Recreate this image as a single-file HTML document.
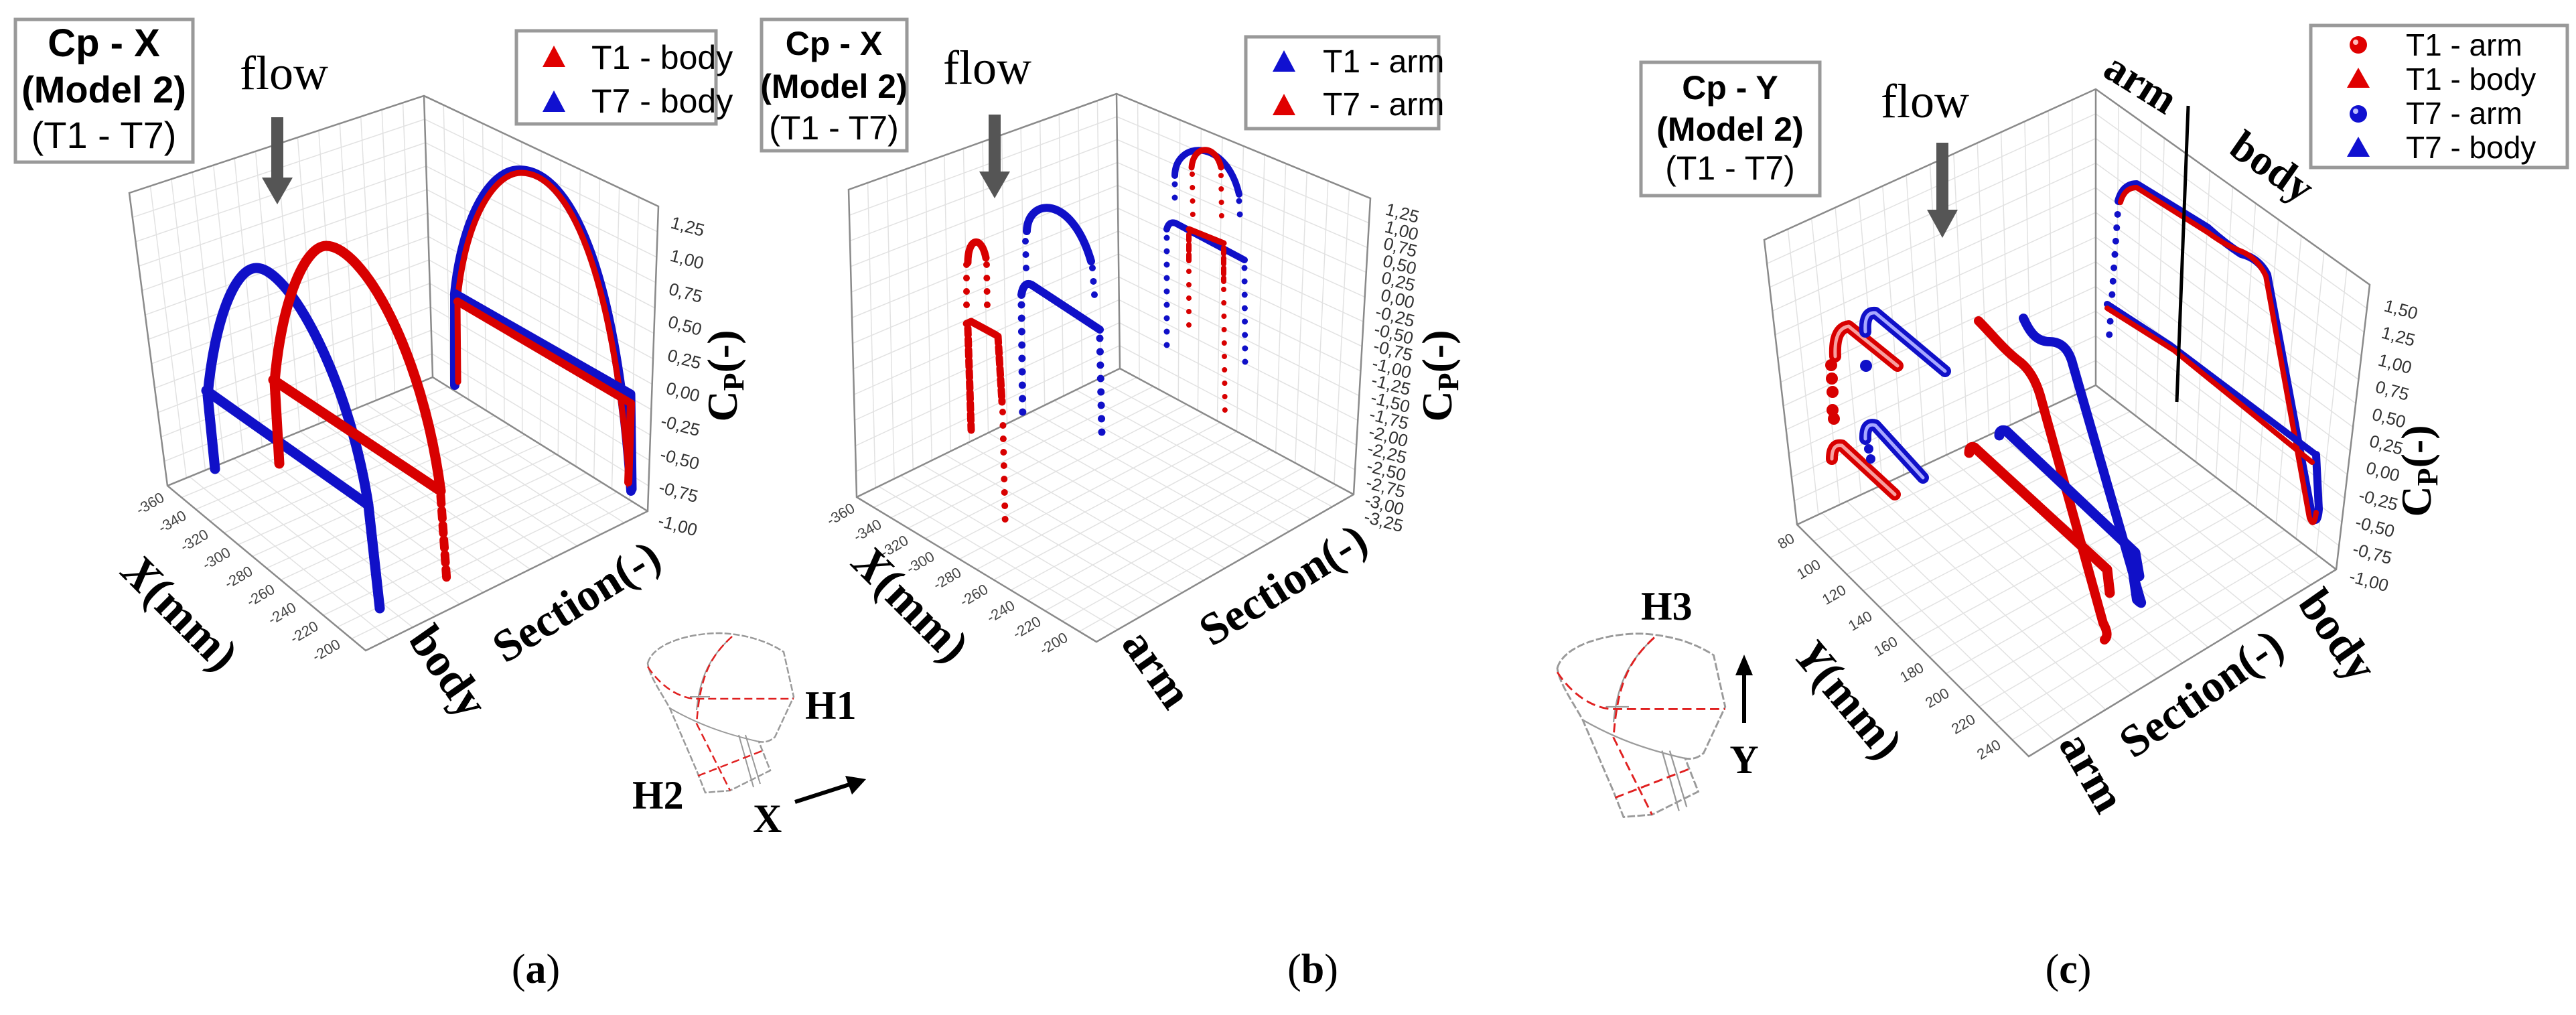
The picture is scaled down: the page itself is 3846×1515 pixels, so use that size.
<!DOCTYPE html>
<html><head><meta charset="utf-8"><style>
html,body{margin:0;padding:0;background:#fff}
svg{display:block}
.sans{font-family:"Liberation Sans",sans-serif}
.ser{font-family:"Liberation Serif",serif}
.tk{font-family:"Liberation Sans",sans-serif;font-size:26px;fill:#333}
.xt{font-family:"Liberation Sans",sans-serif;font-size:22px;fill:#444;text-anchor:end;dominant-baseline:middle}
.g{stroke:#e2e2e2;stroke-width:1.5;fill:none}
.ax{stroke:#8a8a8a;stroke-width:2.5;fill:none}
.r{stroke:#d80000;fill:none;stroke-linecap:round;stroke-linejoin:round}
.b{stroke:#1010c8;fill:none;stroke-linecap:round;stroke-linejoin:round}
.rd{stroke:#d80000;fill:none;stroke-linecap:round;stroke-dasharray:0 20}
.bd{stroke:#1010c8;fill:none;stroke-linecap:round;stroke-dasharray:0 20}
.ttl{font-family:"Liberation Serif",serif;font-weight:bold;fill:#000}
</style></head><body>
<svg id="s" width="3846" height="1515" viewBox="0 0 3846 1515" xmlns="http://www.w3.org/2000/svg">
<rect width="3846" height="1515" fill="#fff"/>
<g id="grids"></g>

<!-- ============ PANEL A ============ -->
<g class="ax">
<path d="M193,288 L633,143 L983,308 L967,763 L546,971 L250,725 Z"/>
<path d="M633,143 L646,563 L250,725 M646,563 L967,763"/>
</g>
<rect x="23" y="29" width="265" height="213" fill="#fff" stroke="#999" stroke-width="5"/>
<text class="sans" x="155" y="84" font-size="58" font-weight="bold" text-anchor="middle">Cp - X</text>
<text class="sans" x="155" y="153" font-size="56" font-weight="bold" text-anchor="middle">(Model 2)</text>
<text class="sans" x="155" y="221" font-size="56" text-anchor="middle">(T1 - T7)</text>
<text class="ser" x="358" y="133" font-size="72">flow</text>
<path d="M405,175 h18 v90 h14 l-23,40 l-23,-40 h14 z" fill="#555"/>
<rect x="771" y="46" width="298" height="139" fill="#fff" stroke="#999" stroke-width="5"/>
<path d="M810,100 l17,-32 l17,32 z" fill="#e00000"/>
<path d="M810,167 l17,-32 l17,32 z" fill="#1010d0"/>
<text class="sans" x="883" y="103" font-size="50">T1 - body</text>
<text class="sans" x="883" y="168" font-size="50">T7 - body</text>
<!-- data a -->
<path class="b" stroke-width="15" d="M321,700 L310,590 C320,480 350,400 383,400 C430,400 520,560 550,754 L567,908"/>
<path class="b" stroke-width="15" d="M308,583 L550,754"/>
<path class="r" stroke-width="15" d="M417,692 L410,570 C420,450 455,367 487,367 C540,367 630,520 658,733"/>
<path class="r" stroke-width="13" stroke-dasharray="12 10" d="M658,740 L667,867"/>
<path class="r" stroke-width="15" d="M408,567 L658,733"/>
<path class="b" stroke-width="14" d="M679,575 L679,438 C690,330 730,254 775,254 C850,254 920,400 942,733"/>
<path class="r" stroke-width="9" d="M684,570 L683,450 C693,335 735,258 778,258 C848,258 915,400 940,725"/>
<path class="b" stroke-width="13" d="M679,438 L700,450 L942,588 L944,730"/>
<path class="r" stroke-width="12" d="M683,450 L942,602 L938,720"/>
<!-- ticks a -->
<g class="tk" font-size="28">
<text x="1000" y="340" transform="rotate(15 1000 340)">1,25</text>
<text x="999" y="389" transform="rotate(15 999 389)">1,00</text>
<text x="997" y="439" transform="rotate(15 997 439)">0,75</text>
<text x="996" y="488" transform="rotate(15 996 488)">0,50</text>
<text x="995" y="538" transform="rotate(15 995 538)">0,25</text>
<text x="993" y="587" transform="rotate(15 993 587)">0,00</text>
<text x="985" y="636" transform="rotate(15 985 636)">-0,25</text>
<text x="984" y="686" transform="rotate(15 984 686)">-0,50</text>
<text x="982" y="735" transform="rotate(15 982 735)">-0,75</text>
<text x="981" y="785" transform="rotate(15 981 785)">-1,00</text>
</g>
<g class="xt">
<text x="244" y="742" transform="rotate(-30 244 742)">-360</text>
<text x="277" y="769" transform="rotate(-30 277 769)">-340</text>
<text x="310" y="797" transform="rotate(-30 310 797)">-320</text>
<text x="343" y="824" transform="rotate(-30 343 824)">-300</text>
<text x="376" y="852" transform="rotate(-30 376 852)">-280</text>
<text x="409" y="879" transform="rotate(-30 409 879)">-260</text>
<text x="441" y="906" transform="rotate(-30 441 906)">-240</text>
<text x="474" y="934" transform="rotate(-30 474 934)">-220</text>
<text x="507" y="961" transform="rotate(-30 507 961)">-200</text>
</g>
<text class="ttl" font-size="64" x="1122" y="583" text-anchor="middle" transform="rotate(-90 1100 583)">C<tspan font-size="44" dy="10">P</tspan><tspan dy="-10">(-)</tspan></text>
<text class="ttl" font-size="70" x="267" y="937" text-anchor="middle" transform="rotate(45 267 917)"><tspan font-style="italic">X</tspan>(mm)</text>
<text class="ttl" font-size="70" x="667" y="1024" text-anchor="middle" transform="rotate(55 667 1004)">body</text>
<text class="ttl" font-size="68" x="862" y="920" text-anchor="middle" transform="rotate(-32 862 900)">Section(-)</text>
<!-- inset a -->
<g id="ins" fill="none">
<path d="M967,990 C975,960 1030,945 1075,945 C1120,947 1150,960 1170,973 L1185,1040 L1157,1100 C1148,1108 1140,1108 1133,1107 L1150,1150 L1090,1180 L1053,1183 L1040,1150 L1000,1057 C985,1030 970,1010 967,990 Z" stroke="#9a9a9a" stroke-width="2.5" stroke-dasharray="10 3"/>
<path d="M1000,1057 C1040,1080 1080,1095 1133,1107 M1103,1097 L1125,1175 M1113,1097 L1135,1170 M1093,950 C1060,980 1045,1010 1040,1060 M1030,1040 L1060,1040" stroke="#9a9a9a" stroke-width="2"/>
<path d="M967,995 C990,1030 1020,1043 1040,1043 L1185,1043 M1093,950 C1060,980 1045,1010 1040,1080 L1090,1180 M1042,1158 L1140,1120" stroke="#e02020" stroke-width="2.5" stroke-dasharray="12 6"/>
</g>
<text class="ttl" font-size="60" x="1202" y="1073">H1</text>
<text class="ttl" font-size="60" x="944" y="1207">H2</text>
<text class="ttl" font-size="60" x="1124" y="1242" font-weight="normal">X</text>
<path d="M1187,1197 L1268,1171" stroke="#000" stroke-width="6"/>
<path d="M1293,1163 L1262,1158 L1272,1186 Z" fill="#000"/>

<!-- ============ PANEL B ============ -->
<g class="ax">
<path d="M1267,283 L1667,140 L2046,296 L2021,738 L1637,958 L1279,742 Z"/>
<path d="M1667,140 L1672,550 L1279,742 M1672,550 L2021,738"/>
</g>
<rect x="1137" y="29" width="217" height="196" fill="#fff" stroke="#999" stroke-width="5"/>
<text class="sans" x="1245" y="82" font-size="50" font-weight="bold" text-anchor="middle">Cp - X</text>
<text class="sans" x="1245" y="146" font-size="50" font-weight="bold" text-anchor="middle">(Model 2)</text>
<text class="sans" x="1245" y="208" font-size="50" text-anchor="middle">(T1 - T7)</text>
<text class="ser" x="1408" y="125" font-size="72">flow</text>
<path d="M1476,171 h18 v85 h14 l-23,40 l-23,-40 h14 z" fill="#555"/>
<rect x="1860" y="55" width="288" height="137" fill="#fff" stroke="#999" stroke-width="5"/>
<path d="M1900,107 l17,-32 l17,32 z" fill="#1010d0"/>
<path d="M1900,172 l17,-32 l17,32 z" fill="#e00000"/>
<text class="sans" x="1975" y="108" font-size="48">T1 - arm</text>
<text class="sans" x="1975" y="172" font-size="48">T7 - arm</text>
<!-- data b -->
<path class="r" stroke-width="11" d="M1445,392 C1445,355 1465,350 1472,385"/>
<path class="rd" stroke-width="10" d="M1443,395 L1443,470 M1473,395 L1474,460"/>
<path class="r" stroke-width="11" d="M1443,483 L1450,480 L1487,500"/>
<path class="r" stroke-width="11" stroke-dasharray="10 6" d="M1445,490 L1450,642 M1490,502 L1496,600"/>
<path class="rd" stroke-width="10" d="M1497,615 L1501,790"/>
<path class="b" stroke-width="12" d="M1533,345 C1535,295 1600,290 1629,390"/>
<path class="bd" stroke-width="10" d="M1531,360 L1532,400 M1631,400 L1634,440"/>
<path class="b" stroke-width="12" d="M1525,440 Q1528,420 1540,425 L1642,492"/>
<path class="bd" stroke-width="11" d="M1525,455 L1527,633 M1642,505 L1645,645"/>
<path class="b" stroke-width="10" d="M1754,262 C1755,210 1830,205 1850,290"/>
<path class="bd" stroke-width="9" d="M1754,275 L1754,305 M1850,300 L1852,335"/>
<path class="b" stroke-width="10" d="M1742,342 Q1745,330 1755,333 L1858,388"/>
<path class="bd" stroke-width="9" d="M1742,355 L1742,535 M1858,400 L1859,545"/>
<path class="r" stroke-width="9" d="M1779,250 C1782,215 1815,215 1823,250"/>
<path class="rd" stroke-width="8" d="M1780,260 L1781,330 M1823,262 L1824,330"/>
<path class="r" stroke-width="9" d="M1775,342 L1827,363"/>
<path class="r" stroke-width="8" stroke-dasharray="9 6" d="M1775,350 L1775,395 M1827,370 L1827,420"/>
<path class="rd" stroke-width="8" d="M1775,405 L1775,492 M1827,432 L1829,625"/>
<g class="tk" font-size="23">
<text x="2067" y="320" transform="rotate(15 2067 320)">1,25</text>
<text x="2066" y="346" transform="rotate(15 2066 346)">1,00</text>
<text x="2064" y="371" transform="rotate(15 2064 371)">0,75</text>
<text x="2063" y="397" transform="rotate(15 2063 397)">0,50</text>
<text x="2061" y="422" transform="rotate(15 2061 422)">0,25</text>
<text x="2060" y="448" transform="rotate(15 2060 448)">0,00</text>
<text x="2052" y="473" transform="rotate(15 2052 473)">-0,25</text>
<text x="2050" y="499" transform="rotate(15 2050 499)">-0,50</text>
<text x="2049" y="524" transform="rotate(15 2049 524)">-0,75</text>
<text x="2047" y="550" transform="rotate(15 2047 550)">-1,00</text>
<text x="2046" y="575" transform="rotate(15 2046 575)">-1,25</text>
<text x="2045" y="601" transform="rotate(15 2045 601)">-1,50</text>
<text x="2043" y="626" transform="rotate(15 2043 626)">-1,75</text>
<text x="2042" y="652" transform="rotate(15 2042 652)">-2,00</text>
<text x="2040" y="677" transform="rotate(15 2040 677)">-2,25</text>
<text x="2039" y="703" transform="rotate(15 2039 703)">-2,50</text>
<text x="2038" y="728" transform="rotate(15 2038 728)">-2,75</text>
<text x="2036" y="754" transform="rotate(15 2036 754)">-3,00</text>
<text x="2035" y="779" transform="rotate(15 2035 779)">-3,25</text>
</g>
<g class="xt">
<text x="1275" y="758" transform="rotate(-30 1275 758)">-360</text>
<text x="1315" y="782" transform="rotate(-30 1315 782)">-340</text>
<text x="1355" y="806" transform="rotate(-30 1355 806)">-320</text>
<text x="1394" y="830" transform="rotate(-30 1394 830)">-300</text>
<text x="1434" y="854" transform="rotate(-30 1434 854)">-280</text>
<text x="1474" y="879" transform="rotate(-30 1474 879)">-260</text>
<text x="1514" y="903" transform="rotate(-30 1514 903)">-240</text>
<text x="1553" y="927" transform="rotate(-30 1553 927)">-220</text>
<text x="1593" y="951" transform="rotate(-30 1593 951)">-200</text>
</g>
<text class="ttl" font-size="64" x="2189" y="583" text-anchor="middle" transform="rotate(-90 2167 583)">C<tspan font-size="44" dy="10">P</tspan><tspan dy="-10">(-)</tspan></text>
<text class="ttl" font-size="70" x="1358" y="924" text-anchor="middle" transform="rotate(45 1358 904)"><tspan font-style="italic">X</tspan>(mm)</text>
<text class="ttl" font-size="70" x="1725" y="1020" text-anchor="middle" transform="rotate(55 1725 1000)">arm</text>
<text class="ttl" font-size="68" x="1917" y="895" text-anchor="middle" transform="rotate(-32 1917 875)">Section(-)</text>

<!-- ============ PANEL C ============ -->
<g class="ax">
<path d="M2634,358 L3129,133 L3538,425 L3488,850 L3029,1129 L2683,783 Z"/>
<path d="M3129,133 L3129,575 L2683,783 M3129,575 L3488,850"/>
</g>
<rect x="2450" y="93" width="267" height="199" fill="#fff" stroke="#999" stroke-width="5"/>
<text class="sans" x="2583" y="148" font-size="50" font-weight="bold" text-anchor="middle">Cp - Y</text>
<text class="sans" x="2583" y="210" font-size="50" font-weight="bold" text-anchor="middle">(Model 2)</text>
<text class="sans" x="2583" y="268" font-size="50" text-anchor="middle">(T1 - T7)</text>
<text class="ser" x="2808" y="175" font-size="72">flow</text>
<path d="M2891,213 h18 v100 h14 l-23,42 l-23,-42 h14 z" fill="#555"/>
<rect x="3450" y="38" width="383" height="212" fill="#fff" stroke="#999" stroke-width="5"/>
<circle cx="3521" cy="67" r="13" fill="#e00000"/><circle cx="3517" cy="63" r="4" fill="#fbb"/>
<path d="M3504,131 l17,-30 l17,30 z" fill="#e00000"/>
<circle cx="3521" cy="170" r="13" fill="#1010d0"/><circle cx="3517" cy="166" r="4" fill="#bbf"/>
<path d="M3504,234 l17,-30 l17,30 z" fill="#1010d0"/>
<text class="sans" x="3592" y="83" font-size="46">T1 - arm</text>
<text class="sans" x="3592" y="134" font-size="46">T1 - body</text>
<text class="sans" x="3592" y="185" font-size="46">T7 - arm</text>
<text class="sans" x="3592" y="236" font-size="46">T7 - body</text>
<!-- data c -->
<g stroke-linecap="round" stroke-linejoin="round" fill="none">
<path d="M2740,532 Q2738,490 2760,487 L2833,546" stroke="#d80000" stroke-width="18"/>
<path d="M2740,532 Q2738,490 2760,487 L2833,546" stroke="#f7a0a0" stroke-width="5"/>
<path d="M2785,495 Q2783,465 2800,467 L2904,554" stroke="#1010c8" stroke-width="18"/>
<path d="M2785,495 Q2783,465 2800,467 L2904,554" stroke="#a8a8ff" stroke-width="5"/>
<path d="M2735,685 Q2735,662 2750,665 L2829,738" stroke="#d80000" stroke-width="18"/>
<path d="M2735,685 Q2735,662 2750,665 L2829,738" stroke="#f7a0a0" stroke-width="5"/>
<path d="M2785,655 Q2784,630 2800,635 L2871,713" stroke="#1010c8" stroke-width="18"/>
<path d="M2785,655 Q2784,630 2800,635 L2871,713" stroke="#a8a8ff" stroke-width="5"/>
</g>
<g fill="#d80000"><circle cx="2734" cy="545" r="9"/><circle cx="2735" cy="565" r="9"/><circle cx="2736" cy="585" r="9"/><circle cx="2736" cy="612" r="9"/><circle cx="2738" cy="625" r="9"/></g>
<g fill="#1010c8"><circle cx="2786" cy="546" r="9"/><circle cx="2790" cy="670" r="7"/><circle cx="2793" cy="685" r="7"/></g>
<path class="r" stroke-width="14" d="M2954,479 C2975,500 2990,520 3013,538 C3030,550 3040,570 3046,590 L3140,930 Q3150,948 3142,955"/>
<path class="r" stroke-width="15" d="M2940,676 Q2940,665 2948,668 L3146,850 L3150,885"/>
<path class="b" stroke-width="14" d="M3021,475 C3030,495 3040,510 3060,510 C3080,510 3090,525 3095,545 L3196,896 Q3200,905 3190,895 L3180,825"/>
<path class="b" stroke-width="15" d="M2985,650 Q2985,640 2995,643 L3188,825 L3194,860"/>
<path class="bd" stroke-width="10" d="M3163,300 L3148,517"/>
<path class="b" stroke-width="12" d="M3163,300 Q3170,275 3190,275 L3296,340 Q3320,362 3346,379 Q3372,385 3385,410 L3452,771 Q3460,785 3462,760 L3458,679"/>
<path class="r" stroke-width="8" d="M3166,302 Q3172,280 3190,280 L3298,348 Q3322,366 3346,375 Q3370,385 3383,412 L3448,773 Q3455,790 3458,765"/>
<path class="b" stroke-width="10" d="M3146,454 L3240,515 L3458,679"/>
<path class="r" stroke-width="8" d="M3146,460 L3246,523 L3452,690"/>
<path d="M3267,158 L3250,600" stroke="#000" stroke-width="5"/>
<g class="tk" font-size="28">
<text x="3558" y="464" transform="rotate(15 3558 464)">1,50</text>
<text x="3554" y="504" transform="rotate(15 3554 504)">1,25</text>
<text x="3549" y="545" transform="rotate(15 3549 545)">1,00</text>
<text x="3545" y="585" transform="rotate(15 3545 585)">0,75</text>
<text x="3540" y="626" transform="rotate(15 3540 626)">0,50</text>
<text x="3536" y="666" transform="rotate(15 3536 666)">0,25</text>
<text x="3531" y="706" transform="rotate(15 3531 706)">0,00</text>
<text x="3520" y="747" transform="rotate(15 3520 747)">-0,25</text>
<text x="3515" y="787" transform="rotate(15 3515 787)">-0,50</text>
<text x="3511" y="827" transform="rotate(15 3511 827)">-0,75</text>
<text x="3506" y="868" transform="rotate(15 3506 868)">-1,00</text>
</g>
<g class="xt" font-size="26">
<text x="2678" y="803" transform="rotate(-30 2678 803)">80</text>
<text x="2717" y="842" transform="rotate(-30 2717 842)">100</text>
<text x="2755" y="880" transform="rotate(-30 2755 880)">120</text>
<text x="2794" y="919" transform="rotate(-30 2794 919)">140</text>
<text x="2832" y="957" transform="rotate(-30 2832 957)">160</text>
<text x="2871" y="996" transform="rotate(-30 2871 996)">180</text>
<text x="2909" y="1034" transform="rotate(-30 2909 1034)">200</text>
<text x="2948" y="1073" transform="rotate(-30 2948 1073)">220</text>
<text x="2986" y="1111" transform="rotate(-30 2986 1111)">240</text>
</g>
<text class="ttl" font-size="64" x="3651" y="725" text-anchor="middle" transform="rotate(-90 3629 725)">C<tspan font-size="44" dy="10">P</tspan><tspan dy="-10">(-)</tspan></text>
<text class="ttl" font-size="70" x="2758" y="1066" text-anchor="middle" transform="rotate(50 2758 1046)"><tspan font-style="italic">Y</tspan>(mm)</text>
<text class="ttl" font-size="70" x="3121" y="1174" text-anchor="middle" transform="rotate(60 3121 1154)">arm</text>
<text class="ttl" font-size="68" x="3288" y="1057" text-anchor="middle" transform="rotate(-35 3288 1037)">Section(-)</text>
<text class="ttl" font-size="70" x="3488" y="970" text-anchor="middle" transform="rotate(55 3488 950)">body</text>
<text class="ttl" font-size="64" x="3196" y="145" text-anchor="middle" transform="rotate(32 3196 125)">arm</text>
<text class="ttl" font-size="64" x="3392" y="270" text-anchor="middle" transform="rotate(35 3392 250)">body</text>
<use href="#ins" transform="translate(1213,-141) scale(1.15)"/>
<text class="ttl" font-size="60" x="2450" y="925">H3</text>
<text class="ttl" font-size="60" x="2604" y="1154" font-weight="normal" text-anchor="middle">Y</text>
<path d="M2604,1079 L2604,1005" stroke="#000" stroke-width="6"/>
<path d="M2604,977 L2591,1008 L2617,1008 Z" fill="#000"/>

<!-- captions -->
<g class="ser" font-size="62" text-anchor="middle">
<text x="800" y="1467">(<tspan font-weight="bold">a</tspan>)</text>
<text x="1960" y="1467">(<tspan font-weight="bold">b</tspan>)</text>
<text x="3088" y="1467">(<tspan font-weight="bold">c</tspan>)</text>
</g>
</svg>
<script>
(function(){
var NS="http://www.w3.org/2000/svg",g=document.getElementById("grids");
function L(a,b,n){return[a[0]+(b[0]-a[0])*n,a[1]+(b[1]-a[1])*n]}
function quad(p0,p1,p2,p3,nu,nv){var d="";
for(var i=1;i<nu;i++){var t=i/nu,a=L(p0,p1,t),b=L(p3,p2,t);d+="M"+a+"L"+b;}
for(var j=1;j<nv;j++){var s=j/nv,a=L(p0,p3,s),b=L(p1,p2,s);d+="M"+a+"L"+b;}
var e=document.createElementNS(NS,"path");e.setAttribute("d",d);e.setAttribute("class","g");g.appendChild(e);}
function panel(TL,BT,TR,BR,FR,LB,BB){
quad(TL,BT,BB,LB,14,12);quad(BT,TR,BR,BB,12,12);quad(LB,BB,BR,FR,12,14);}
panel([193,288],[633,143],[983,308],[967,763],[546,971],[250,725],[646,563]);
panel([1267,283],[1667,140],[2046,296],[2021,738],[1637,958],[1279,742],[1672,550]);
panel([2634,358],[3129,133],[3538,425],[3488,850],[3029,1129],[2683,783],[3129,575]);
})();
</script>
</body></html>
